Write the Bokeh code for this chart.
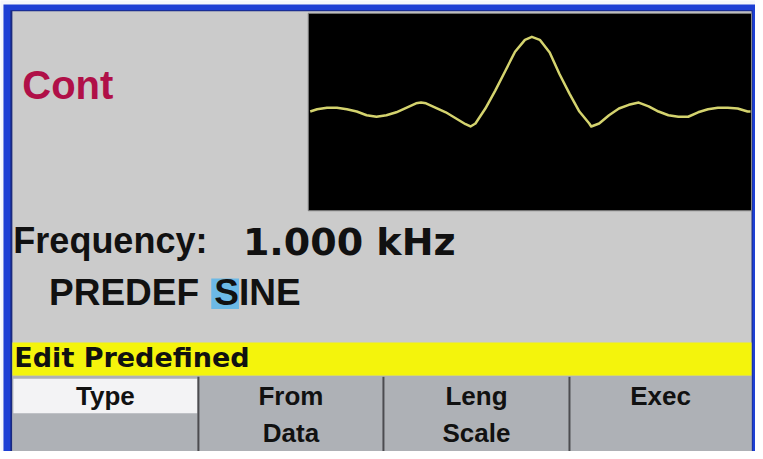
from bokeh.plotting import figure
from bokeh.models import Range1d
from bokeh.core.properties import value
from bokeh.embed import file_html
from bokeh.resources import INLINE

# ---- data ----
# waveform trace: horizontal position (px from left of scope window) and relative amplitude
WAVE_POS = [2, 9, 19, 29, 39, 49, 59, 69, 79, 89, 99, 109, 114, 119, 129, 139, 149, 159, 164, 169,
            179, 189, 199, 209, 219, 226, 234, 244, 254, 264, 274, 284, 286, 294, 304, 314, 324,
            334, 344, 354, 364, 374, 384, 394, 404, 414, 424, 434, 444, 447]
WAVE_AMP = [0.00, 0.03, 0.05, 0.05, 0.03, 0.00, -0.05, -0.07, -0.05, -0.01, 0.05, 0.11, 0.12, 0.11,
            0.05, -0.01, -0.09, -0.17, -0.20, -0.16, 0.04, 0.28, 0.54, 0.80, 0.96, 1.00, 0.96, 0.79,
            0.50, 0.24, 0.00, -0.16, -0.20, -0.16, -0.05, 0.04, 0.09, 0.12, 0.07, 0.00, -0.05, -0.07,
            -0.07, -0.01, 0.03, 0.05, 0.05, 0.04, 0.00, 0.00]

MODE_LABEL = "Cont"
PARAM_LABEL = "Frequency:"
PARAM_VALUE = "1.000 kHz"
PREDEF_LABEL = "PREDEF"
PREDEF_VALUE = "SINE"
STATUS_LABEL = "Edit Predefined"
SOFTKEY_TOP = ["Type", "From", "Leng", "Exec"]
SOFTKEY_BOTTOM = ["", "Data", "Scale", ""]

# ---- layout: frame spans the reference's 763x459 pixel space ----
RW, RH = 763, 459
W, H = 755, 451
p = figure(width=W, height=H, output_backend="svg", toolbar_location=None,
           x_range=Range1d(0, RW), y_range=Range1d(RH, 0),
           min_border=0, outline_line_color=None)
p.axis.visible = False
p.grid.visible = False
BLUE = "#1d3fd4"
p.background_fill_color = "#f4f6fb"
p.border_fill_color = "#f4f6fb"

# bezel + main gray panel
p.quad(left=[3], right=[RW + 2], top=[4], bottom=[RH + 2], fill_color=BLUE, line_color=None)
p.quad(left=[10], right=[760], top=[10], bottom=[RH + 2], fill_color="#1a2a80", line_color=None)
p.quad(left=[12], right=[759], top=[11], bottom=[RH + 2], fill_color="#cbcbcb", line_color=None)

# scope window
BOX_L, BOX_R, BOX_T, BOX_B = 311, 759, 13, 214
p.quad(left=[BOX_L], right=[BOX_R], top=[BOX_T], bottom=[BOX_B], fill_color="#000000",
       line_color="#8a8a8a", line_width=1)
BASE_Y, AMP_PX = 113, 76
p.extra_x_ranges = {"wx": Range1d(0 - BOX_L, RW - BOX_L)}
p.extra_y_ranges = {"wy": Range1d((BASE_Y - RH) / AMP_PX, (BASE_Y - 0) / AMP_PX)}
p.line(WAVE_POS, WAVE_AMP, x_range_name="wx", y_range_name="wy",
       line_color="#d4d36e", line_width=2.5, line_join="round")

# text helper: y given as target baseline (compensates the renderer's baseline shift)
def label(x, y, txt, font, size, color="#111111", align="left"):
    yy = [v - 0.36 * size for v in y]
    p.text(x=x, y=yy, text=txt, text_font=value(font), text_font_style="bold",
           text_font_size=f"{size}px", text_color=color, text_align=align,
           text_baseline="alphabetic")

label([22], [100], [MODE_LABEL], "Liberation Sans", 40, color="#b01048")
label([13], [257], [PARAM_LABEL], "Liberation Sans", 36)
label([245], [259], [PARAM_VALUE], "DejaVu Sans", 38)

# highlight cursor
p.quad(left=[213], right=[241], top=[283], bottom=[314], fill_color="#6cb9e6", line_color=None)
label([49], [311], [PREDEF_LABEL], "Liberation Sans", 37)
label([216], [311], [PREDEF_VALUE], "Liberation Sans", 37)

# status bar
p.quad(left=[12], right=[759], top=[348], bottom=[382], fill_color="#f4f40c", line_color=None)
label([14], [373], [STATUS_LABEL], "DejaVu Sans", 27)

# soft keys
EDGES = [12, 200, 387, 575, 759]
p.quad(left=[12], right=[759], top=[382], bottom=[RH + 2], fill_color="#aeb1b6", line_color=None)
p.quad(left=[13], right=[199], top=[385], bottom=[420], fill_color="#f3f3f5", line_color=None)
for xe in EDGES[1:-1]:
    p.segment(x0=[xe], y0=[383], x1=[xe], y1=[RH + 2], line_color="#4c4c50", line_width=2)
centers = [(EDGES[i] + EDGES[i + 1]) / 2 for i in range(4)]
label(centers, [412] * 4, SOFTKEY_TOP, "Liberation Sans", 26, align="center")
label(centers, [450] * 4, SOFTKEY_BOTTOM, "Liberation Sans", 26, align="center")

open("out.html", "w").write(file_html(p, INLINE))
